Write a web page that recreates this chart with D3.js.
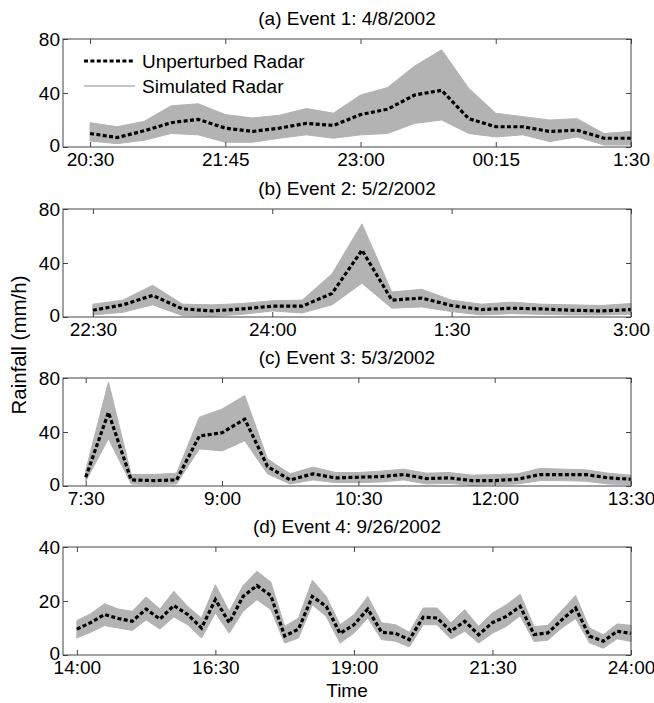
<!DOCTYPE html>
<html>
<head>
<meta charset="utf-8">
<script src="https://cdnjs.cloudflare.com/ajax/libs/d3/7.8.5/d3.min.js"></script>
<style>
  body { margin: 0; background: #fff; }
  text { font-family: "Liberation Sans", Arial, Helvetica, sans-serif; fill: #000; }
</style>
</head>
<body>
<div id="chart"></div>
<script>
// Panel titles and tick labels
var titles = ["(a) Event 1: 4/8/2002", "(b) Event 2: 5/2/2002", "(c) Event 3: 5/3/2002", "(d) Event 4: 9/26/2002"];
var xTicksA = ["20:30", "21:45", "23:00", "00:15", "1:30"];
var xTicksB = ["22:30", "24:00", "1:30", "3:00"];
var xTicksC = ["7:30", "9:00", "10:30", "12:00", "13:30"];
var xTicksD = ["14:00", "16:30", "19:00", "21:30", "24:00"];
var yTicksABC = [0, 40, 80];
var yTicksD = [0, 20, 40];

// Event 1
var timesA = ["20:30", "20:45", "21:00", "21:15", "21:30", "21:45", "22:00", "22:15", "22:30", "22:45", "23:00",
  "23:15", "23:30", "23:45", "0:00", "0:15", "0:30", "0:45", "1:00", "1:15", "1:30"];
var radarA = [10, 7, 12, 18, 20.5, 14, 11.5, 14, 17.5, 16, 24, 28, 38.5, 42, 21, 15, 15, 11.5, 12.5, 6.5, 6.5];
var upperA = [18, 15, 19, 30.5, 32, 24, 21.5, 23.5, 28.5, 25, 38.5, 44, 60, 72, 43.5, 25, 22.5, 20, 21, 10, 11.5];
var lowerA = [4.5, 2.5, 5, 10, 9, 3.5, 3.5, 6.5, 9, 6.5, 9, 10, 17.5, 20, 10, 7.5, 9, 4, 7.5, 1.5, 1.5];

// Event 2
var timesB = ["22:30", "22:45", "23:00", "23:15", "23:30", "23:45", "0:00", "0:15", "0:30", "0:45", "1:00",
  "1:15", "1:30", "1:45", "2:00", "2:15", "2:30", "2:45", "3:00"];
var radarB = [5, 9, 16, 6, 4.5, 6, 8, 8, 17.5, 49.5, 12.5, 14, 8.5, 5.5, 6.5, 6, 5, 4.5, 5.5];
var upperB = [9.5, 12.5, 23.5, 9.5, 9, 10, 12, 12.5, 32, 69, 18.5, 20.5, 12.5, 9.5, 11, 9.5, 9, 8.5, 10];
var lowerB = [1.5, 3.5, 9, 1, 0.5, 2, 4.5, 3, 9, 25, 6.5, 7.5, 4, 1.5, 2.5, 2, 1.5, 1.5, 2];

// Event 3
var timesC = ["7:30", "7:45", "8:00", "8:15", "8:30", "8:45", "9:00", "9:15", "9:30", "9:45", "10:00", "10:15",
  "10:30", "10:45", "11:00", "11:15", "11:30", "11:45", "12:00", "12:15", "12:30", "12:45", "13:00", "13:15", "13:30"];
var radarC = [6.5, 54.5, 4.5, 4, 4.5, 37, 39.5, 49.5, 14.5, 4.5, 9, 6, 6.5, 7, 8.5, 5.5, 6, 4, 4, 5, 8.5, 8.5, 8.5, 6, 5];
var upperC = [11.5, 77, 8.5, 8.5, 9.5, 51, 57, 67, 20, 9, 14, 10, 10, 11, 12.5, 9.5, 10, 8, 8.5, 9, 13, 12.5, 12, 9.5, 8];
var lowerC = [3.5, 35, 1.5, 1, 1.5, 27.5, 26, 33.5, 9, 1.5, 4.5, 2.5, 2.5, 3, 4.5, 1.5, 2, 0.5, 1, 1.5, 4, 4, 3.5, 1.5, 1];

// Event 4
var timesD = ["14:00", "14:15", "14:30", "14:45", "15:00", "15:15", "15:30", "15:45", "16:00", "16:15",
  "16:30", "16:45", "17:00", "17:15", "17:30", "17:45", "18:00", "18:15", "18:30", "18:45",
  "19:00", "19:15", "19:30", "19:45", "20:00", "20:15", "20:30", "20:45", "21:00", "21:15",
  "21:30", "21:45", "22:00", "22:15", "22:30", "22:45", "23:00", "23:15", "23:30", "23:45", "24:00"];
var radarD = [9.6, 12, 15, 13.5, 12.5, 17, 13.3, 18.3, 15, 10,
  20.5, 12, 21.7, 25.7, 22, 7, 9.6, 21.7, 18, 8,
  11.2, 17, 8.4, 8, 5.7, 14, 13.7, 8.8, 12.5, 7.5,
  12, 14.3, 18, 7.6, 8.2, 13, 17.4, 7, 5.1, 8.8, 8];
var upperD = [12.8, 15.3, 19, 17, 16.2, 21.5, 17, 23.6, 18, 13.7,
  26, 16.2, 25.7, 31, 27, 10.6, 13.7, 27.7, 21.7, 11.2,
  14.9, 21.7, 11.9, 11.2, 8.4, 17.4, 17.4, 11.9, 16.8, 10.6,
  15.6, 18.6, 22.5, 10.5, 11, 16.5, 22, 10, 7.5, 11.5, 11];
var lowerD = [6.3, 8.4, 10.9, 10, 9.1, 13, 9.6, 14.1, 11.2, 6.3,
  15.6, 8.1, 16.2, 20.5, 16.8, 4.4, 6.3, 18.6, 14.3, 4.4,
  8.1, 13.7, 5.7, 5.1, 3, 11.2, 11.2, 5.9, 8.8, 4.4,
  8.1, 10.6, 14.5, 5, 5.5, 10, 13.5, 4.5, 2.5, 6, 5];

var svgWidth = 654;
var svgHeight = 703;
var margin = { left: 63, right: 23 };
var width = svgWidth - margin.left - margin.right;
var panelTops = [39, 209, 378, 547];
var panelHeight = 108;
var bandColor = "#b3b3b3";
var boxColor = "#444";
var fontSize = 19;

var svg = d3.select("#chart")
  .append("svg")
  .attr("width", svgWidth)
  .attr("height", svgHeight);

// "hh:mm" -> minutes, rolling past midnight
function toMinutes(list) {
  var first = null;
  return list.map(function (s) {
    var p = s.split(":");
    var m = (+p[0]) * 60 + (+p[1]);
    if (first === null) first = m;
    if (m < first) m += 1440;
    return m;
  });
}

var panels = [
  { times: timesA, radar: radarA, upper: upperA, lower: lowerA, xTicks: xTicksA, yTicks: yTicksABC },
  { times: timesB, radar: radarB, upper: upperB, lower: lowerB, xTicks: xTicksB, yTicks: yTicksABC },
  { times: timesC, radar: radarC, upper: upperC, lower: lowerC, xTicks: xTicksC, yTicks: yTicksABC },
  { times: timesD, radar: radarD, upper: upperD, lower: lowerD, xTicks: xTicksD, yTicks: yTicksD }
];

panels.forEach(function (p, i) {
  var g = svg.append("g")
    .attr("transform", `translate(${margin.left}, ${panelTops[i]})`);

  var mins = toMinutes(p.times);
  var tickMins = toMinutes(p.xTicks);

  var x = d3.scaleLinear()
    .domain([tickMins[0] - 15, tickMins[tickMins.length - 1]])
    .range([0, width]);
  var y = d3.scaleLinear()
    .domain([0, d3.max(p.yTicks)])
    .range([panelHeight, 0]);

  var rows = mins.map(function (m, j) {
    return { m: m, radar: p.radar[j], upper: p.upper[j], lower: p.lower[j] };
  });

  // simulated radar envelope
  g.append("path")
    .datum(rows)
    .attr("fill", bandColor)
    .attr("stroke", bandColor)
    .attr("stroke-width", 1)
    .attr("d", d3.area()
      .x(d => x(d.m))
      .y0(d => y(d.lower))
      .y1(d => y(d.upper)));

  // unperturbed radar
  g.append("path")
    .datum(rows)
    .attr("fill", "none")
    .attr("stroke", "#000")
    .attr("stroke-width", 3.2)
    .attr("stroke-dasharray", "4,2.4")
    .attr("d", d3.line()
      .x(d => x(d.m))
      .y(d => y(d.radar)));

  // axes, ticks inward on all sides
  var axB = g.append("g")
    .attr("transform", `translate(0, ${panelHeight})`)
    .call(d3.axisBottom(x).tickValues(tickMins)
      .tickFormat((d, j) => p.xTicks[j])
      .tickSizeInner(-5).tickSizeOuter(0).tickPadding(6));
  var axT = g.append("g")
    .call(d3.axisTop(x).tickValues(tickMins).tickFormat("")
      .tickSizeInner(-5).tickSizeOuter(0));
  var axL = g.append("g")
    .call(d3.axisLeft(y).tickValues(p.yTicks)
      .tickSizeInner(-5).tickSizeOuter(0).tickPadding(3));
  var axR = g.append("g")
    .attr("transform", `translate(${width}, 0)`)
    .call(d3.axisRight(y).tickValues(p.yTicks).tickFormat("")
      .tickSizeInner(-5).tickSizeOuter(0));

  [axB, axT, axL, axR].forEach(function (a) {
    a.select(".domain").remove();
    a.selectAll("line").attr("stroke", boxColor);
    a.selectAll("text").attr("font-size", fontSize).attr("fill", "#000");
  });

  // lowest y label nudged up a touch so it clears the first time label
  axL.selectAll(".tick text").filter(d => d === 0).attr("dy", "0.26em");

  g.append("rect")
    .attr("width", width)
    .attr("height", panelHeight)
    .attr("fill", "none")
    .attr("stroke", boxColor)
    .attr("stroke-width", 1);

  // title
  g.append("text")
    .attr("x", width / 2)
    .attr("y", -14)
    .attr("text-anchor", "middle")
    .attr("font-size", fontSize)
    .text(titles[i]);

  // legend on first panel
  if (i === 0) {
    g.append("line")
      .attr("x1", 21).attr("x2", 72)
      .attr("y1", 22).attr("y2", 22)
      .attr("stroke", "#000")
      .attr("stroke-width", 3.2)
      .attr("stroke-dasharray", "4,2.4");
    g.append("line")
      .attr("x1", 21).attr("x2", 72)
      .attr("y1", 47).attr("y2", 47)
      .attr("stroke", bandColor)
      .attr("stroke-width", 1.5);
    g.append("text")
      .attr("x", 79).attr("y", 22).attr("dy", "0.35em")
      .attr("font-size", fontSize)
      .text("Unperturbed Radar");
    g.append("text")
      .attr("x", 79).attr("y", 47).attr("dy", "0.35em")
      .attr("font-size", fontSize)
      .text("Simulated Radar");
  }
});

// axis labels
svg.append("text")
  .attr("transform", "translate(19, 345) rotate(-90)")
  .attr("dy", "0.35em")
  .attr("text-anchor", "middle")
  .attr("font-size", 20.5)
  .text("Rainfall (mm/h)");

svg.append("text")
  .attr("x", margin.left + width / 2)
  .attr("y", 697)
  .attr("text-anchor", "middle")
  .attr("font-size", fontSize)
  .text("Time");
</script>
</body>
</html>
